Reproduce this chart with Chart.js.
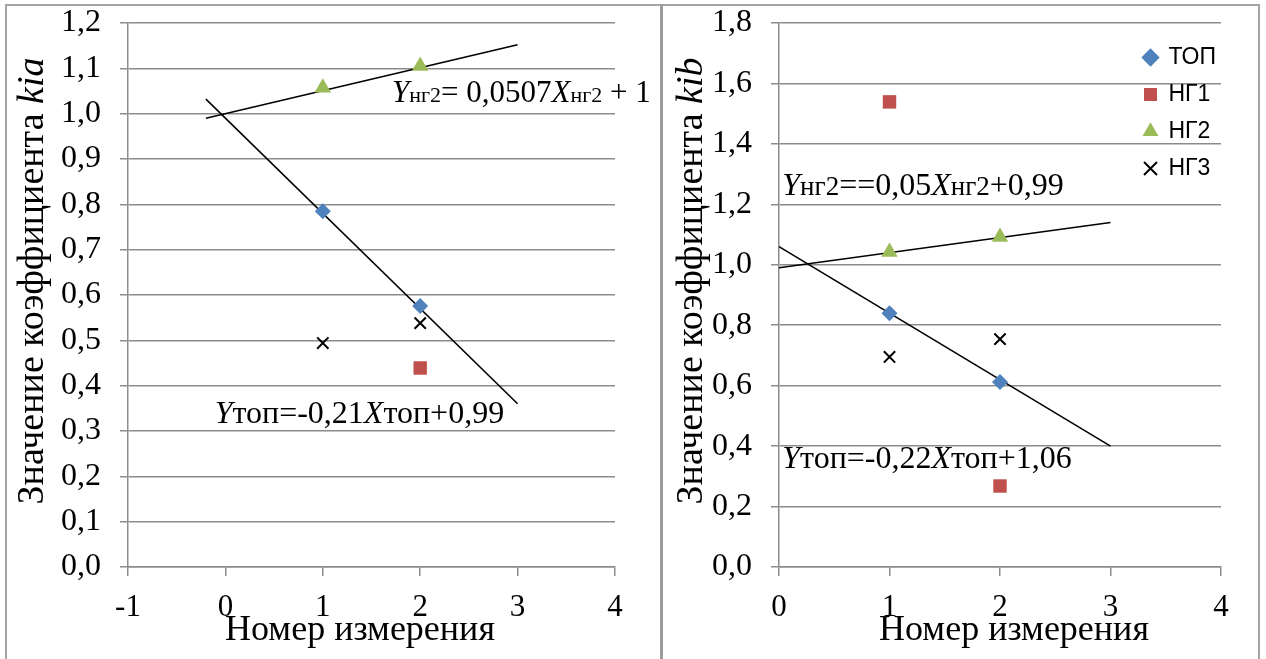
<!DOCTYPE html>
<html>
<head>
<meta charset="utf-8">
<script src="https://cdn.jsdelivr.net/npm/chart.js@4.4.1/dist/chart.umd.min.js"></script>
<style>
  html, body { margin: 0; padding: 0; background: #fff; }
  body { width: 1266px; height: 659px; position: relative; overflow: hidden; }
  #frame { position: absolute; left: 5px; top: 4px; width: 1255px; height: 700px; border: 2px solid #a5a5a5; box-sizing: border-box; }
  #divider { position: absolute; left: 660px; top: 4px; width: 3px; height: 700px; background: #9c9c9c; }
  #left { position: absolute; left: 0; top: 0; }
  #right { position: absolute; left: 662px; top: 0; }
</style>
</head>
<body>
<div id="frame"></div>
<div id="divider"></div>
<canvas id="left" width="660" height="659"></canvas>
<canvas id="right" width="604" height="659"></canvas>
<script>
const measureX = [1, 2];
const seriesNames = ['ТОП', 'НГ1', 'НГ2', 'НГ3'];

const kiaTop = [0.785, 0.576];
const kiaNg1 = [null, 0.439];
const kiaNg2 = [1.057, 1.105];
const kiaNg3 = [0.494, 0.538];

const kibTop = [0.840, 0.612];
const kibNg1 = [1.539, 0.268];
const kibNg2 = [1.042, 1.092];
const kibNg3 = [0.695, 0.754];

// linear trends: [ТОП, НГ2]
const kiaSlope = [-0.21, 0.0507];
const kiaIntercept = [0.99, 1];
const kiaTrendRange = [-0.2, 3];

const kibSlope = [-0.22, 0.05];
const kibIntercept = [1.06, 0.99];
const kibTrendRange = [0, 3];

const kiaTicksX = [-1, 4];
const kibTicksX = [0, 4];

const colors = ['#4f81bd', '#c0504d', '#9bbb59', '#000000'];
const styles = ['rectRot', 'rect', 'triangle', 'crossRot'];
const radii = [8, 9.5, 9.5, 8];

const gridGray = '#8c8c8c';
const serif = '"Liberation Serif", "Times New Roman", serif';
const R = s => s + 'px ' + serif;
const I = s => 'italic ' + s + 'px ' + serif;

function points(vals) {
  return measureX.map((x, i) => ({ x: x, y: vals[i] })).filter(p => p.y !== null);
}

function trend(slope, intercept, range) {
  return range.map(x => ({ x: x, y: slope * x + intercept }));
}

function makeDatasets(series, slopes, intercepts, range) {
  const ds = series.map((vals, i) => ({
    label: seriesNames[i],
    data: points(vals),
    pointStyle: styles[i],
    pointRadius: radii[i],
    pointHoverRadius: radii[i],
    backgroundColor: colors[i],
    borderColor: colors[i],
    pointBorderWidth: i === 3 ? 2 : 0,
    showLine: false
  }));
  slopes.forEach((s, i) => {
    ds.push({
      label: 'trend' + i,
      data: trend(s, intercepts[i], range),
      showLine: true,
      borderColor: '#000',
      borderWidth: 1.6,
      pointRadius: 0,
      fill: false
    });
  });
  return ds;
}

// draws text made of several runs (regular / italic / small)
function drawRuns(ctx, runs, x, y, align) {
  const widths = runs.map(r => { ctx.font = r[1]; return ctx.measureText(r[0]).width; });
  const total = widths.reduce((a, b) => a + b, 0);
  let cx = align === 'center' ? x - total / 2 : x;
  runs.forEach((r, i) => { ctx.font = r[1]; ctx.fillText(r[0], cx, y); cx += widths[i]; });
}

function textPlugin(labels) {
  return {
    id: 'richText',
    afterDraw(chart) {
      const ctx = chart.ctx;
      const xs = chart.scales.x, ys = chart.scales.y;
      ctx.save();
      ctx.fillStyle = '#000';
      ctx.textBaseline = 'alphabetic';
      ctx.textAlign = 'left';
      labels.forEach(l => {
        let px = l.px, py = l.py;
        if (l.data) { px = xs.getPixelForValue(l.data[0]); py = ys.getPixelForValue(l.data[1]); }
        if (l.rotate) {
          ctx.save();
          ctx.translate(px, py);
          ctx.rotate(-Math.PI / 2);
          ctx.textBaseline = 'middle';
          drawRuns(ctx, l.runs, 0, 0, 'center');
          ctx.restore();
        } else {
          drawRuns(ctx, l.runs, px, py, l.align || 'left');
        }
      });
      ctx.restore();
    }
  };
}

// moves the chartArea legend to the upper right corner
const legendShift = {
  id: 'legendShift',
  afterLayout(chart) {
    if (chart.legend && chart.options.plugins.legend.display) {
      chart.legend.left = chart.chartArea.right - 91;
      chart.legend.top = chart.chartArea.top + 9;
    }
  }
};

function makeOptions(cfg) {
  return {
    responsive: false,
    animation: false,
    layout: { padding: { left: 0, top: 23, right: 45, bottom: 0 } },
    plugins: {
      tooltip: { enabled: false },
      legend: {
        display: cfg.legend,
        position: 'chartArea',
        align: 'start',
        labels: {
          usePointStyle: true,
          boxWidth: 13,
          boxHeight: 13,
          padding: 14,
          color: '#000',
          font: { family: '"Liberation Sans", Arial, sans-serif', size: 23 },
          filter: item => item.datasetIndex < 4
        }
      }
    },
    scales: {
      x: {
        type: 'linear',
        min: cfg.xRange[0],
        max: cfg.xRange[1],
        afterFit: s => { s.height = 92; s.paddingLeft = 0; s.paddingRight = 0; },
        border: { display: true, color: gridGray, width: 1.5 },
        grid: { drawOnChartArea: false, drawTicks: true, tickLength: 9, color: gridGray, lineWidth: 1.5 },
        ticks: {
          stepSize: 1,
          padding: 13,
          color: '#000',
          font: { family: serif, size: 31 },
          callback: v => String(v)
        }
      },
      y: {
        min: 0,
        max: cfg.yMax,
        afterFit: s => { s.width = cfg.yWidth; s.paddingTop = 0; s.paddingBottom = 0; },
        border: { display: true, color: gridGray, width: 1.5 },
        grid: { color: gridGray, lineWidth: 1.5, tickLength: 8 },
        ticks: {
          stepSize: cfg.yStep,
          padding: 19,
          color: '#000',
          font: { family: serif, size: 32 },
          callback: v => v.toFixed(1).replace('.', ',')
        }
      }
    }
  };
}

const kiaLabels = [
  { data: [1.71, 1.026], runs: [['Y', I(31)], ['нг2', R(22)], ['= 0,0507', R(31)], ['X', I(31)], ['нг2', R(22)], [' + 1', R(31)]] },
  { data: [-0.11, 0.318], runs: [['Y', I(32)], ['топ=-0,21', R(32)], ['X', I(32)], ['топ+0,99', R(32)]] },
  { px: 33, py: 281, rotate: true, runs: [['Значение коэффициента ', R(38)], ['kia', I(38)]] },
  { px: 360, py: 640, align: 'center', runs: [['Номер измерения', R(36)]] }
];

const kibLabels = [
  { data: [0.03, 1.231], runs: [['Y', I(32)], ['нг2', R(27)], ['==0,05', R(32)], ['X', I(32)], ['нг2', R(27)], ['+0,99', R(32)]] },
  { data: [0.03, 0.328], runs: [['Y', I(32)], ['топ=-0,22', R(32)], ['X', I(32)], ['топ+1,06', R(32)]] },
  { px: 30, py: 281, rotate: true, runs: [['Значение коэффициента ', R(38)], ['kib', I(38)]] },
  { px: 352, py: 640, align: 'center', runs: [['Номер измерения', R(36)]] }
];

new Chart(document.getElementById('left').getContext('2d'), {
  type: 'scatter',
  data: { datasets: makeDatasets([kiaTop, kiaNg1, kiaNg2, kiaNg3], kiaSlope, kiaIntercept, kiaTrendRange) },
  options: makeOptions({ legend: false, xRange: kiaTicksX, yMax: 1.2, yStep: 0.1, yWidth: 128 }),
  plugins: [textPlugin(kiaLabels), legendShift]
});

new Chart(document.getElementById('right').getContext('2d'), {
  type: 'scatter',
  data: { datasets: makeDatasets([kibTop, kibNg1, kibNg2, kibNg3], kibSlope, kibIntercept, kibTrendRange) },
  options: makeOptions({ legend: true, xRange: kibTicksX, yMax: 1.8, yStep: 0.2, yWidth: 117 }),
  plugins: [textPlugin(kibLabels), legendShift]
});
</script>
</body>
</html>
